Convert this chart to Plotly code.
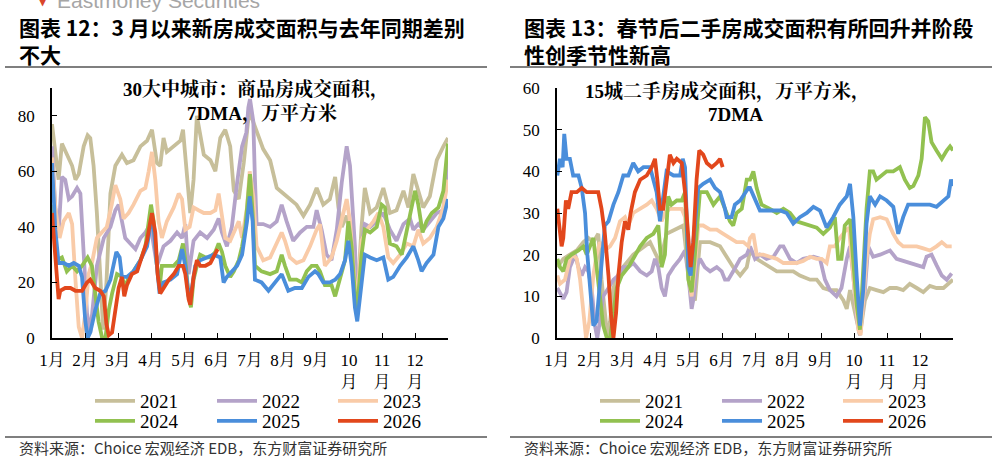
import plotly.graph_objects as go

W, H = 997, 461

# ---------------- data (x = month offset from Jan 1, y = value) ----------------
years = ["2021", "2022", "2023", "2024", "2025", "2026"]
colors = ["#C7BF9A", "#B4A3C9", "#F9CBA8", "#92C150", "#4A8EDB", "#E2471C"]

# Left: 30 large & mid cities, new home sales area, 7DMA (10k sqm)
L21_x = [0, 0.2, 0.3, 0.45, 0.61, 0.71, 0.81, 0.96, 1.08, 1.16, 1.26, 1.36, 1.45, 1.55, 1.65, 1.77, 1.92, 2.12, 2.27, 2.47, 2.68, 2.88, 3.03, 3.18, 3.28, 3.38, 3.48, 3.69, 3.89, 3.97, 4.09, 4.19, 4.29, 4.39, 4.6, 4.8, 4.95, 5.1, 5.25, 5.4, 5.51, 5.66, 5.81, 5.96, 6.0, 6.2, 6.4, 6.61, 6.81, 7.01, 7.21, 7.41, 7.62, 7.82, 8.02, 8.22, 8.42, 8.58, 8.68, 8.78, 8.93, 9.08, 9.23, 9.38, 9.48, 9.64, 9.84, 10.04, 10.24, 10.44, 10.65, 10.8, 10.95, 11.1, 11.25, 11.45, 11.66, 11.86, 12.0]
L21_y = [77, 57, 70, 66, 62, 57, 59, 69, 73, 72, 62, 45, 25, 3, 20, 52, 62, 66, 63, 64, 69, 71, 75, 63, 62, 72, 67, 69, 71, 75, 57, 45, 57, 80, 66, 64, 60, 72, 75, 69, 53, 50, 63, 80, 81, 74, 68, 64, 54, 52, 50, 48, 44, 48, 54, 48, 50, 58, 47, 40, 44, 36, 9, 40, 54, 45, 47, 54, 45, 46, 53, 47, 59, 53, 47, 51, 64, 69, 72]

L22_x = [0, 0.1, 0.2, 0.3, 0.4, 0.51, 0.61, 0.76, 0.86, 0.96, 1.06, 1.16, 1.36, 1.57, 1.77, 1.92, 2.02, 2.12, 2.22, 2.37, 2.53, 2.68, 2.83, 2.98, 3.18, 3.38, 3.59, 3.79, 3.94, 4.04, 4.14, 4.29, 4.49, 4.7, 4.9, 5.05, 5.15, 5.3, 5.45, 5.61, 5.76, 5.89, 5.95, 6.0, 6.1, 6.15, 6.2, 6.4, 6.61, 6.81, 6.96, 7.11, 7.31, 7.52, 7.72, 7.92, 8.02, 8.17, 8.32, 8.47, 8.63, 8.78, 8.93, 9.03, 9.18, 9.25, 9.38, 9.48, 9.64, 9.84, 10.04, 10.24, 10.44, 10.65, 10.85, 10.95, 11.1, 11.25, 11.45, 11.66, 11.86, 12.0]
L22_y = [69, 47, 38, 58, 57, 50, 51, 54, 52, 33, 9, 2, 26, 36, 40, 46, 48, 42, 36, 34, 32, 36, 38, 41, 26, 33, 35, 38, 36, 41, 23, 35, 38, 36, 39, 43, 38, 33, 40, 56, 69, 74, 83, 86, 78, 57, 41, 41, 40, 42, 48, 42, 35, 38, 40, 40, 46, 39, 30, 28, 39, 56, 69, 62, 33, 9, 33, 41, 40, 42, 45, 39, 35, 41, 43, 39, 41, 39, 42, 45, 46, 65]

L23_x = [0, 0.1, 0.23, 0.35, 0.51, 0.61, 0.71, 0.81, 0.91, 1.01, 1.11, 1.21, 1.36, 1.51, 1.66, 1.81, 1.92, 2.07, 2.17, 2.32, 2.47, 2.68, 2.83, 2.93, 3.03, 3.13, 3.23, 3.33, 3.48, 3.69, 3.84, 3.94, 4.04, 4.17, 4.29, 4.44, 4.6, 4.8, 4.95, 5.05, 5.15, 5.25, 5.4, 5.56, 5.66, 5.76, 5.91, 5.99, 6.1, 6.2, 6.4, 6.61, 6.81, 6.96, 7.06, 7.21, 7.41, 7.62, 7.82, 8.02, 8.12, 8.27, 8.47, 8.63, 8.83, 8.93, 9.03, 9.23, 9.38, 9.54, 9.74, 9.89, 10.04, 10.19, 10.34, 10.55, 10.75, 10.95, 11.1, 11.25, 11.45, 11.66, 11.86, 12.0]
L23_y = [65, 47, 36, 42, 45, 41, 21, 4, 0, 9, 23, 27, 36, 38, 40, 48, 55, 50, 43, 45, 48, 53, 54, 60, 67, 57, 42, 36, 42, 47, 52, 50, 39, 40, 47, 46, 45, 45, 46, 52, 45, 36, 35, 39, 42, 36, 47, 60, 51, 33, 28, 29, 34, 38, 35, 29, 27, 28, 33, 39, 41, 26, 29, 35, 45, 50, 42, 11, 35, 39, 42, 45, 40, 29, 27, 30, 34, 33, 39, 34, 36, 40, 47, 57]

L24_x = [0, 0.15, 0.3, 0.45, 0.61, 0.76, 0.91, 1.08, 1.21, 1.31, 1.41, 1.52, 1.62, 1.72, 1.82, 1.97, 2.12, 2.22, 2.32, 2.47, 2.68, 2.83, 2.93, 3.0, 3.08, 3.18, 3.26, 3.33, 3.48, 3.69, 3.84, 3.97, 4.04, 4.14, 4.21, 4.29, 4.39, 4.49, 4.65, 4.8, 4.95, 5.05, 5.15, 5.25, 5.4, 5.51, 5.66, 5.76, 5.86, 5.96, 6.0, 6.08, 6.15, 6.35, 6.61, 6.81, 6.96, 7.06, 7.21, 7.41, 7.57, 7.72, 7.87, 8.02, 8.12, 8.27, 8.47, 8.58, 8.73, 8.88, 8.98, 9.08, 9.21, 9.28, 9.38, 9.48, 9.64, 9.84, 9.99, 10.09, 10.24, 10.44, 10.6, 10.75, 10.9, 11.0, 11.1, 11.23, 11.35, 11.51, 11.71, 11.86, 12.0]
L24_y = [48, 28, 29, 24, 26, 24, 26, 29, 26, 16, 6, 0, 0, 10, 16, 23, 22, 18, 22, 24, 28, 33, 41, 48, 42, 26, 18, 26, 26, 26, 28, 34, 28, 15, 11, 21, 26, 30, 29, 29, 31, 34, 31, 26, 22, 24, 28, 33, 40, 54, 59, 45, 26, 24, 23, 24, 30, 26, 21, 21, 20, 24, 26, 26, 24, 19, 19, 15, 21, 28, 42, 33, 10, 15, 30, 39, 38, 40, 48, 47, 34, 33, 30, 39, 47, 53, 48, 38, 42, 45, 47, 53, 70]

L25_x = [0, 0.1, 0.2, 0.35, 0.51, 0.66, 0.81, 0.91, 1.01, 1.08, 1.16, 1.31, 1.46, 1.62, 1.77, 1.87, 1.95, 2.05, 2.12, 2.27, 2.47, 2.68, 2.88, 3.0, 3.08, 3.18, 3.26, 3.38, 3.59, 3.79, 3.94, 4.04, 4.14, 4.24, 4.34, 4.49, 4.7, 4.9, 5.1, 5.2, 5.3, 5.45, 5.61, 5.76, 5.91, 5.99, 6.08, 6.15, 6.35, 6.56, 6.76, 6.96, 7.16, 7.36, 7.57, 7.77, 7.97, 8.07, 8.22, 8.42, 8.58, 8.73, 8.88, 8.98, 9.08, 9.18, 9.25, 9.33, 9.48, 9.64, 9.84, 10.04, 10.19, 10.34, 10.55, 10.75, 10.95, 11.1, 11.2, 11.35, 11.56, 11.71, 11.86, 12.0]
L25_y = [63, 39, 27, 27, 26, 27, 26, 22, 6, 0, 2, 10, 16, 17, 21, 26, 31, 29, 22, 22, 24, 28, 33, 42, 40, 26, 16, 20, 21, 23, 32, 26, 15, 18, 26, 28, 29, 30, 29, 20, 22, 24, 26, 30, 42, 51, 42, 21, 20, 17, 20, 23, 17, 18, 18, 22, 24, 23, 20, 20, 21, 23, 28, 35, 26, 11, 6, 15, 30, 29, 28, 29, 21, 22, 26, 29, 33, 28, 24, 27, 30, 40, 43, 50]

L26_x = [0, 0.1, 0.2, 0.25, 0.4, 0.56, 0.71, 0.91, 1.06, 1.16, 1.31, 1.46, 1.57, 1.65, 1.72, 1.82, 1.92, 2.02, 2.12, 2.19, 2.27, 2.42, 2.58, 2.73, 2.88, 2.98, 3.03, 3.13, 3.2, 3.28, 3.38, 3.54, 3.69, 3.84, 3.97, 4.04, 4.14, 4.19, 4.29, 4.39, 4.49, 4.65, 4.8, 4.95, 5.02]
L26_y = [45, 29, 14, 17, 18, 18, 17, 17, 20, 21, 18, 17, 15, 5, 1, 2, 11, 18, 22, 15, 19, 23, 24, 29, 35, 42, 45, 38, 23, 16, 18, 21, 23, 26, 26, 23, 14, 12, 22, 28, 26, 26, 27, 30, 32]

# Right: 15 cities, second-hand home sales area, 7DMA (10k sqm)
R21_x = [0.01, 0.19, 0.39, 0.6, 0.8, 0.95, 1.1, 1.25, 1.35, 1.45, 1.53, 1.61, 1.71, 1.9, 2.31, 2.82, 3.12, 3.32, 3.83, 4.03, 4.18, 4.33, 4.64, 4.94, 5.34, 5.55, 5.75, 5.85, 6.05, 6.25, 6.45, 6.66, 6.86, 7.16, 7.36, 7.67, 7.87, 8.07, 8.27, 8.47, 8.68, 8.78, 8.88, 8.98, 9.08, 9.18, 9.33, 9.48, 9.68, 9.89, 10.09, 10.29, 10.49, 10.69, 10.9, 11.1, 11.3, 11.5, 11.71, 11.91, 12.0]
R21_y = [17, 19, 20, 21, 23, 24, 23, 25, 14, 6, 0, 4, 12, 16, 20, 23, 18, 25, 27, 12, 9, 23, 23, 22, 17, 15, 17, 21, 19, 18, 17, 16, 16, 16, 15, 14, 14, 12, 11.5, 11.5, 9, 7, 11.5, 8, 3.5, 0.7, 9, 12, 11.5, 11, 12, 12, 11.5, 13, 12, 11, 12.5, 12, 12, 13.5, 14]

R22_x = [0.01, 0.09, 0.19, 0.29, 0.39, 0.55, 0.65, 0.75, 0.85, 0.95, 1.05, 1.15, 1.22, 1.3, 1.4, 1.56, 1.71, 1.86, 2.01, 2.16, 2.31, 2.52, 2.72, 2.87, 2.97, 3.07, 3.17, 3.27, 3.37, 3.53, 3.73, 3.88, 3.98, 4.08, 4.15, 4.23, 4.33, 4.48, 4.64, 4.84, 4.99, 5.09, 5.19, 5.34, 5.55, 5.75, 5.85, 6.0, 6.15, 6.35, 6.56, 6.76, 6.86, 7.06, 7.26, 7.46, 7.77, 7.97, 8.12, 8.27, 8.47, 8.62, 8.78, 8.88, 8.98, 9.08, 9.18, 9.33, 9.43, 9.58, 9.79, 10.09, 10.29, 10.49, 10.69, 10.9, 11.1, 11.2, 11.35, 11.5, 11.66, 11.81, 11.96]
R22_y = [12, 11, 9.4, 11, 17, 20, 17, 15, 17, 16, 12, 3, 0, 4, 10, 12, 14, 15, 17, 17, 18, 16, 15, 16, 19, 17, 12, 10, 15, 17, 19, 21, 15, 7, 10, 17, 19, 17, 16, 17, 16, 14, 14, 16, 19, 20, 22, 19, 20, 19, 19.5, 22, 22, 19, 18, 19, 19.5, 19, 14, 11.5, 10, 12, 19, 22, 15, 5, 0.7, 11.5, 22, 19.5, 20, 21, 19, 18.5, 18, 17.5, 17, 19.5, 20, 17.5, 15, 14, 15.5]

R23_x = [0.01, 0.09, 0.24, 0.39, 0.49, 0.6, 0.7, 0.8, 0.88, 0.98, 1.1, 1.2, 1.3, 1.45, 1.61, 1.76, 1.91, 2.06, 2.16, 2.31, 2.52, 2.72, 2.87, 3.02, 3.17, 3.27, 3.42, 3.63, 3.78, 3.88, 3.98, 4.08, 4.18, 4.28, 4.43, 4.64, 4.84, 5.04, 5.24, 5.44, 5.65, 5.8, 5.85, 5.95, 6.05, 6.25, 6.45, 6.66, 6.86, 7.06, 7.26, 7.46, 7.67, 7.87, 8.02, 8.17, 8.27, 8.42, 8.57, 8.72, 8.85, 8.93, 9.03, 9.13, 9.2, 9.28, 9.38, 9.48, 9.58, 9.79, 9.99, 10.19, 10.34, 10.49, 10.69, 10.9, 11.1, 11.3, 11.5, 11.66, 11.81, 11.96]
R23_y = [15, 13, 14, 19, 20, 19, 14, 6, 0, 4, 15, 20, 23, 21, 22, 24, 28, 29, 27, 30, 31, 32, 33, 31, 28, 30, 31, 31, 31, 29, 15, 10, 17, 27, 27, 26, 26, 25, 24, 23, 23, 22, 24, 25, 20, 20, 19.5, 19, 18, 18, 18, 18.5, 19.5, 19, 19, 18, 22, 22, 24, 25.5, 26.5, 19, 10, 2, 0.7, 8, 19, 25, 28.5, 29, 28.5, 25, 23, 22, 22, 22, 21.5, 21, 22, 23, 22, 22]

R24_x = [0.01, 0.09, 0.19, 0.29, 0.44, 0.65, 0.8, 0.9, 1.0, 1.1, 1.2, 1.3, 1.4, 1.51, 1.61, 1.71, 1.81, 1.96, 2.16, 2.31, 2.52, 2.72, 2.92, 3.07, 3.12, 3.17, 3.27, 3.37, 3.47, 3.63, 3.78, 3.88, 3.98, 4.08, 4.18, 4.33, 4.54, 4.74, 4.94, 5.09, 5.24, 5.34, 5.44, 5.6, 5.75, 5.85, 5.95, 6.05, 6.2, 6.45, 6.66, 6.86, 7.06, 7.26, 7.46, 7.67, 7.87, 8.07, 8.27, 8.42, 8.52, 8.62, 8.72, 8.88, 8.98, 9.08, 9.18, 9.28, 9.38, 9.48, 9.58, 9.68, 9.83, 9.99, 10.19, 10.39, 10.54, 10.69, 10.8, 10.95, 11.05, 11.15, 11.25, 11.35, 11.5, 11.66, 11.81, 11.91, 12.0]
R24_y = [19, 17, 16, 19, 20, 21, 22, 20, 22, 24, 17, 10, 3, 0, 0, 6, 12, 15, 17, 19, 22, 24, 25, 27, 22, 17, 20, 34, 32, 33, 33, 35, 14, 11, 20, 35, 35, 32, 34, 31, 28, 27, 30, 31, 38, 38, 40, 36, 32, 31, 30, 31, 30, 28, 27.5, 27, 26.5, 25, 26.5, 29, 19, 19, 27, 28.5, 19, 8, 2, 15, 31, 40, 40, 38, 39, 40, 40, 41, 38, 36, 36.5, 39, 43, 53, 52, 47, 45, 43, 45, 46, 45]

R25_x = [0.01, 0.09, 0.17, 0.22, 0.29, 0.39, 0.49, 0.65, 0.75, 0.85, 0.92, 1.02, 1.1, 1.2, 1.3, 1.45, 1.56, 1.71, 1.86, 2.01, 2.16, 2.31, 2.46, 2.62, 2.82, 3.02, 3.12, 3.22, 3.32, 3.53, 3.73, 3.81, 3.88, 3.98, 4.05, 4.13, 4.28, 4.43, 4.64, 4.79, 4.94, 5.09, 5.14, 5.29, 5.39, 5.55, 5.7, 5.8, 5.85, 6.15, 6.45, 6.76, 6.96, 7.16, 7.36, 7.57, 7.77, 7.97, 8.17, 8.37, 8.57, 8.78, 8.88, 8.98, 9.08, 9.18, 9.28, 9.38, 9.48, 9.64, 9.79, 9.99, 10.19, 10.34, 10.49, 10.64, 10.9, 11.1, 11.3, 11.5, 11.71, 11.86, 11.94, 12.0]
R25_y = [39, 43, 41, 49, 43, 43, 39, 39, 36, 30, 20, 10, 3, 4, 14, 27, 28, 32, 35, 39, 39, 42, 40, 41, 41, 35, 28, 35, 40, 39, 39, 43, 41, 17, 15, 23, 36, 37, 38, 36, 35, 31, 29, 29, 32, 33, 35, 36, 36, 30.6, 30.6, 30.6, 30, 27.5, 29, 30, 31.5, 30.6, 26.5, 29, 32, 34, 37, 29, 15, 3, 11.5, 27.5, 34, 32, 34, 33, 31.5, 25, 29, 32, 32, 32, 32, 31.5, 33, 34, 38, 36.5]

R26_x = [0.01, 0.07, 0.14, 0.19, 0.27, 0.34, 0.44, 0.6, 0.75, 0.9, 1.1, 1.25, 1.35, 1.45, 1.56, 1.63, 1.71, 1.79, 1.86, 1.96, 2.06, 2.16, 2.23, 2.36, 2.52, 2.72, 2.87, 2.97, 3.04, 3.12, 3.22, 3.32, 3.42, 3.53, 3.63, 3.78, 3.88, 3.98, 4.05, 4.13, 4.23, 4.31, 4.43, 4.54, 4.69, 4.84, 4.94, 5.02]
R26_y = [31, 26, 22, 24, 33, 31, 35, 35, 36, 35, 35, 35, 31, 25, 15, 6, 0, 6, 15, 23, 28, 26, 30, 35, 38, 39, 41, 43, 38, 31, 31, 38, 44, 42, 43, 42, 35, 24, 17, 23, 38, 45, 44, 42, 41, 42, 43, 41]

month_vals = list(range(12))
month_text = ["1月", "2月", "3月", "4月", "5月", "6月", "7月", "8月", "9月", "10<br>月", "11<br>月", "12<br>月"]

left_series = [(L21_x, L21_y), (L22_x, L22_y), (L23_x, L23_y), (L24_x, L24_y), (L25_x, L25_y), (L26_x, L26_y)]
right_series = [(R21_x, R21_y), (R22_x, R22_y), (R23_x, R23_y), (R24_x, R24_y), (R25_x, R25_y), (R26_x, R26_y)]

# ---------------- layout helpers (pixel -> paper) ----------------
def px(x):
    return x / W

def py(y):
    return 1 - y / H

SERIF = "Liberation Serif, Times New Roman, Noto Serif CJK SC, Noto Sans CJK SC, serif"
SANS_CJK = "Noto Sans CJK SC, Liberation Sans, sans-serif"

fig = go.Figure()

legend_cols_left = [95, 217, 338]
legend_cols_right = [600, 722, 843]
legend_rows = [401, 421]

layout_legends = {}
for i, yr in enumerate(years):
    for side, series, xa, ya, cols in (("L", left_series, "x", "y", legend_cols_left),
                                        ("R", right_series, "x2", "y2", legend_cols_right)):
        idx = 2 * i + (1 if side == "L" else 2)
        lname = "legend" if idx == 1 else f"legend{idx}"
        xs, ys = series[i]
        fig.add_trace(go.Scatter(
            x=xs, y=ys, mode="lines", name=yr,
            line=dict(color=colors[i], width=3.8, shape="linear"),
            xaxis=xa, yaxis=ya, legend=lname, showlegend=True,
            hoverinfo="skip",
        ))
        col = cols[i % 3]
        row = legend_rows[i // 3]
        layout_legends[lname] = dict(
            x=px(col - 5), y=py(row), xanchor="left", yanchor="middle",
            orientation="h", bgcolor="rgba(0,0,0,0)", borderwidth=0,
            font=dict(family=SERIF, size=19, color="#000"),
            itemwidth=40, tracegroupgap=0,
        )

axis_common = dict(
    showline=True, linecolor="#000", linewidth=1.6, showgrid=False, zeroline=False,
    ticks="inside", ticklen=5, tickwidth=1.3, tickcolor="#000",
    tickfont=dict(family=SERIF, size=17, color="#000"),
)

y_dom = [py(338), py(88)]
fig.update_layout(
    width=W, height=H,
    margin=dict(l=0, r=0, t=0, b=0, autoexpand=False),
    paper_bgcolor="white", plot_bgcolor="white",
    font=dict(family=SERIF, color="#000"),
    xaxis=dict(domain=[px(52), px(448)], range=[0, 12], tickvals=month_vals, ticktext=month_text,
               anchor="y", ticklabelstandoff=6, **axis_common),
    yaxis=dict(domain=y_dom, range=[0, 90], tickvals=[0, 20, 40, 60, 80], anchor="x",
               ticklabelstandoff=12, **axis_common),
    xaxis2=dict(domain=[px(557), px(953)], range=[0, 12], tickvals=month_vals, ticktext=month_text,
                anchor="y2", ticklabelstandoff=6, **axis_common),
    yaxis2=dict(domain=y_dom, range=[0, 60], tickvals=[0, 10, 20, 30, 40, 50, 60], anchor="x2",
                ticklabelstandoff=12, **axis_common),
    **layout_legends,
)

annotations = []
def add_text(text, x, y, size, family, color="#000", xanchor="left", yanchor="middle", bold=False):
    t = f"<b>{text}</b>" if bold else text
    annotations.append(dict(text=t, x=px(x), y=py(y), xref="paper", yref="paper",
                            xanchor=xanchor, yanchor=yanchor, align="left", showarrow=False,
                            font=dict(size=size, family=family, color=color)))

# header remnants (cut off at top, as in the source page)
add_text("Eastmoney Securities", 55, 1, 21, "Liberation Sans, Arial, sans-serif", color="#A6A6A6")
add_text("▼", 36, 1, 12, "DejaVu Sans", color="#D9462B")

# report titles (two lines each)
add_text("图表 12：3 月以来新房成交面积与去年同期差别<br>不大", 17, 10, 21, SANS_CJK,
         yanchor="top", bold=True)
add_text("图表 13：春节后二手房成交面积有所回升并阶段<br>性创季节性新高", 522, 10, 21, SANS_CJK,
         yanchor="top", bold=True)

# inner chart titles
add_text("30大中城市：商品房成交面积，", 256, 90, 19, SERIF, xanchor="center", bold=True)
add_text("7DMA，万平方米", 262, 114, 19, SERIF, xanchor="center", bold=True)
add_text("15城二手房成交面积，万平方米，", 727, 91, 19, SERIF, xanchor="center", bold=True)
add_text("7DMA", 735, 114, 19, SERIF, xanchor="center", bold=True)

# sources
add_text("资料来源：Choice 宏观经济 EDB，东方财富证券研究所", 17, 447, 15, SANS_CJK, color="#333")
add_text("资料来源：Choice 宏观经济 EDB，东方财富证券研究所", 522, 447, 15, SANS_CJK, color="#333")

shapes = []
for x0, x1 in ((5, 487), (510, 992)):
    for yy in (67, 437):
        shapes.append(dict(type="line", xref="paper", yref="paper", x0=px(x0), x1=px(x1),
                           y0=py(yy), y1=py(yy), line=dict(color="#7F7F7F", width=2)))

fig.update_layout(annotations=annotations, shapes=shapes)

fig.write_html("out.html")
